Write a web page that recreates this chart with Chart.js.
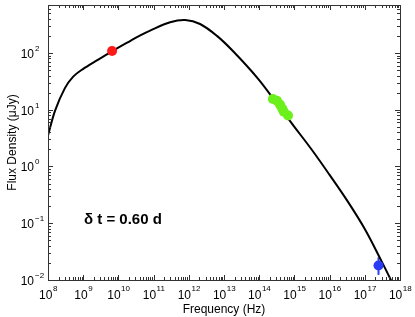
<!DOCTYPE html>
<html><head><meta charset="utf-8">
<script src="https://cdn.jsdelivr.net/npm/chart.js@4"></script>
<style>html,body{margin:0;padding:0;background:#fff}#c{display:block}</style>
</head><body>
<canvas id="c" width="415" height="317"></canvas>
<script>
// Model curve
const curveFreq = [1e8, 1.58e8, 3.02e8, 5.13e8, 1e9, 2.45e9, 6.6e9, 2.14e10, 4.07e10, 7.94e10, 2.95e11, 7.94e11, 2.09e12, 6.31e12, 1.82e13, 9.33e13, 3.16e14, 1e15, 3.16e15, 1e16, 3.16e16, 1e17, 3.16e17, 5.5e17, 1e18];
const curveFlux = [3.5, 9.55, 24, 38, 52.5, 74, 107, 162, 202, 248, 347, 380, 324, 200, 107, 35, 12.9, 5.0, 1.95, 0.71, 0.25, 0.079, 0.02, 0.01, 0.0046];
// Radio point
const radioFreq = [6.6e9];
const radioFlux = [108];
// Optical/NIR points
const optFreq = [2.45e14, 3.2e14, 3.9e14, 4.5e14, 5.0e14, 6.6e14];
const optFlux = [15.5, 14.4, 12.3, 10.5, 9.2, 7.9];
// X-ray point
const xrayFreq = [2.45e17];
const xrayFlux = [0.018];
const xrayErrLow = [0.0123];
const xrayErrHigh = [0.025];
// Axis ticks
const xTickExps = [8, 9, 10, 11, 12, 13, 14, 15, 16, 17, 18];
const yTickExps = [-2, -1, 0, 1, 2];
const xMin = 1e8, xMax = 1e18, yMin = 0.01, yMax = 700;

const zip = (a, b) => a.map((v, i) => ({x: v, y: b[i]}));

const FONT = '"Liberation Sans", Arial, Helvetica, sans-serif';
const AX = '#333';

const decor = {
  id: 'decor',
  beforeDatasetsDraw(chart) {
    const ctx = chart.ctx, xs = chart.scales.x, ys = chart.scales.y;
    ctx.save();
    ctx.strokeStyle = '#2a3cf5';
    ctx.lineWidth = 2;
    xrayFreq.forEach((f, i) => {
      const px = xs.getPixelForValue(f);
      ctx.beginPath();
      ctx.moveTo(px, ys.getPixelForValue(xrayErrLow[i]));
      ctx.lineTo(px, ys.getPixelForValue(xrayErrHigh[i]));
      ctx.stroke();
    });
    ctx.restore();
  },
  afterDraw(chart) {
    const ctx = chart.ctx, xs = chart.scales.x, ys = chart.scales.y, a = chart.chartArea;
    ctx.save();
    ctx.strokeStyle = AX;
    ctx.lineWidth = 1;
    ctx.strokeRect(Math.round(a.left) + 0.5, Math.round(a.top) + 0.5, Math.round(a.right - a.left), Math.round(a.bottom - a.top));
    ctx.beginPath();
    for (let e = 8; e < 18; e++) {
      for (let m = 1; m <= 9; m++) {
        const v = m * Math.pow(10, e);
        const px = Math.round(xs.getPixelForValue(v)) + 0.5;
        const len = m === 1 ? 5 : 3;
        ctx.moveTo(px, a.bottom); ctx.lineTo(px, a.bottom - len);
        ctx.moveTo(px, a.top); ctx.lineTo(px, a.top + len);
      }
    }
    for (let e = -2; e < 3; e++) {
      for (let m = 1; m <= 9; m++) {
        const v = m * Math.pow(10, e);
        if (v > yMax) continue;
        const py = Math.round(ys.getPixelForValue(v)) + 0.5;
        const len = m === 1 ? 5 : 3;
        ctx.moveTo(a.left, py); ctx.lineTo(a.left + len, py);
        ctx.moveTo(a.right, py); ctx.lineTo(a.right - len, py);
      }
    }
    ctx.stroke();

    ctx.fillStyle = '#000';
    const big = '12px ' + FONT, small = '8px ' + FONT;
    ctx.textBaseline = 'alphabetic';
    xTickExps.forEach(e => {
      const px = xs.getPixelForValue(Math.pow(10, e));
      ctx.font = big; const w1 = ctx.measureText('10').width;
      ctx.font = small; const es = String(e); const w2 = ctx.measureText(es).width;
      const x0 = px - (w1 + w2) / 2;
      ctx.font = big; ctx.textAlign = 'left'; ctx.fillText('10', x0, 299);
      ctx.font = small; ctx.fillText(es, x0 + w1 + 0.5, 291);
    });
    yTickExps.forEach(e => {
      const py = ys.getPixelForValue(Math.pow(10, e));
      const es = e < 0 ? '\u2212' + Math.abs(e) : String(e);
      ctx.font = big; ctx.textAlign = 'right'; ctx.fillText('10', 34, py + 5);
      ctx.font = small; ctx.textAlign = 'left'; ctx.fillText(es, 35, py - 2);
    });

    ctx.font = '12px ' + FONT;
    ctx.textAlign = 'center';
    ctx.fillText('Frequency (Hz)', (a.left + a.right) / 2, 313);
    ctx.save();
    ctx.translate(16, (a.top + a.bottom) / 2);
    ctx.rotate(-Math.PI / 2);
    ctx.fillText('Flux Density (\u03bcJy)', 0, 0);
    ctx.restore();

    ctx.font = 'bold 15px ' + FONT;
    ctx.textAlign = 'left';
    ctx.fillText('\u03b4 t = 0.60 d', 84, 224);
    ctx.restore();
  }
};

new Chart(document.getElementById('c'), {
  type: 'scatter',
  data: {
    datasets: [
      {label: 'radio', data: zip(radioFreq, radioFlux), backgroundColor: '#ff1a1a', borderColor: '#ff1a1a', pointRadius: 5, pointBorderWidth: 0, order: 0},
      {label: 'optical', data: zip(optFreq, optFlux), backgroundColor: '#6cf01c', borderColor: '#6cf01c', pointRadius: 5, pointBorderWidth: 0, order: 0},
      {label: 'xray', data: zip(xrayFreq, xrayFlux), backgroundColor: '#2a3cf5', borderColor: '#2a3cf5', pointRadius: 5, pointBorderWidth: 0, order: 0},
      {label: 'model', data: zip(curveFreq, curveFlux), showLine: true, borderColor: '#000', borderWidth: 2, pointRadius: 0, tension: 0.35, order: 1}
    ]
  },
  options: {
    responsive: false,
    animation: false,
    devicePixelRatio: 1,
    layout: {padding: {left: 48, top: 3, right: 15, bottom: 37}},
    plugins: {legend: {display: false}, tooltip: {enabled: false}},
    scales: {
      x: {type: 'logarithmic', min: xMin, max: xMax, display: false},
      y: {type: 'logarithmic', min: yMin, max: yMax, display: false}
    }
  },
  plugins: [decor]
});
</script>
</body></html>
